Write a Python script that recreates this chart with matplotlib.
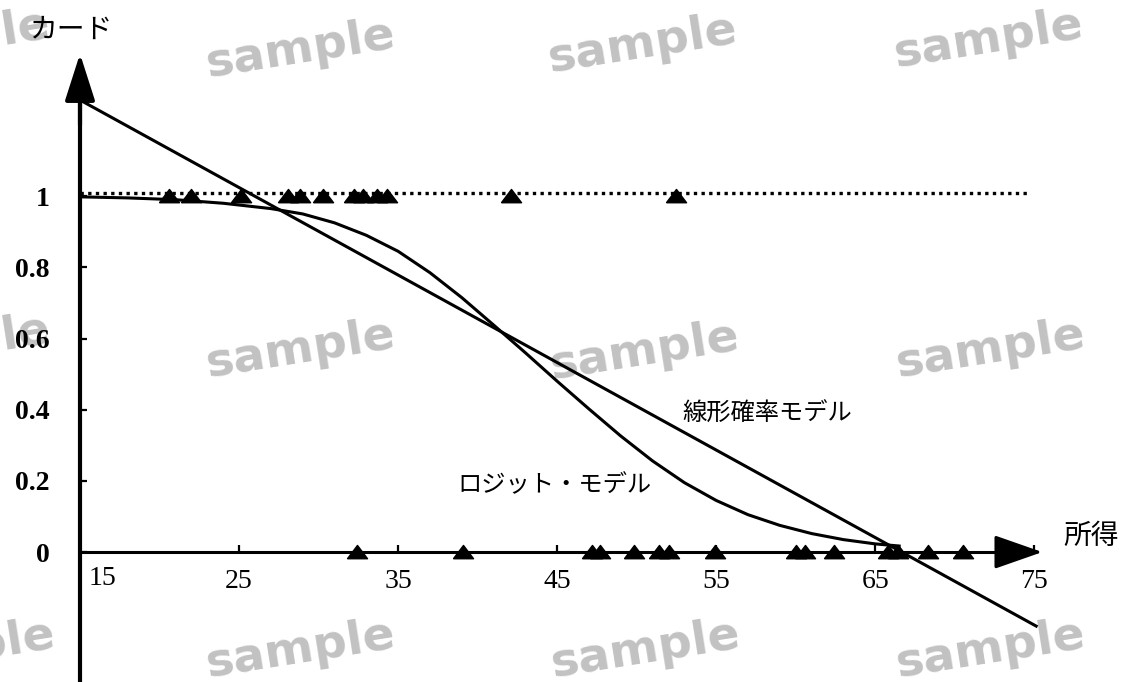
import matplotlib.pyplot as plt

# --------- data ------------------------------
# observations (card holders = 1, non-holders = 0) by income
card_one_income = [20.6, 22.0, 25.1, 28.1, 28.8, 30.3, 32.2, 32.8, 33.7, 34.3, 42.1, 52.5]
card_zero_income = [32.4, 39.1, 47.2, 47.7, 49.8, 51.4, 52.0, 54.9, 60.0, 60.6,
                    62.4, 65.8, 66.4, 68.3, 70.5]

# linear probability model (end points of the fitted line)
lpm_x = [15, 75.2]
lpm_y = [1.27, -0.21]

# logit model, points
logit_x = [15, 18, 21, 24, 27, 29, 31, 33, 35, 37, 39, 41, 43, 45, 47, 49,
           51, 53, 55, 57, 59, 61, 63, 65, 66.5]
logit_y = [0.998, 0.995, 0.99, 0.98, 0.965, 0.95, 0.925, 0.89, 0.845, 0.785,
           0.715, 0.638, 0.56, 0.48, 0.402, 0.326, 0.256, 0.195, 0.145, 0.105,
           0.075, 0.052, 0.035, 0.023, 0.017]

y_ticks = [0, 0.2, 0.4, 0.6, 0.8, 1]
y_labels = ["0", "0.2", "0.4", "0.6", "0.8", "1"]
x_ticks = [25, 35, 45, 55, 65, 75]
x_labels = ["25", "35", "45", "55", "65", "75"]

# watermark centres (figure pixels)
wm_x = [-45, 300, 642, 988, -45, 300, 644, 990, -40, 300, 645, 990]
wm_y = [40, 50, 45, 40, 345, 350, 352, 350, 650, 650, 650, 650]

W, H = 1125, 682
fig = plt.figure(figsize=(W / 100, H / 100), dpi=100)
fig.patch.set_facecolor("white")

# watermarks behind everything
for px, py in zip(wm_x, wm_y):
    fig.text(px / W, 1 - py / H, "sample", fontsize=34, fontweight="bold",
             family="DejaVu Sans", color="#c2c2c2", rotation=9,
             ha="center", va="center", zorder=-5)

ax = fig.add_axes([0, 0, 1, 1])
ax.patch.set_alpha(0)
ax.set_xlim(9.97, 80.7)
ax.set_ylim(-0.365, 1.551)

# axes through (15, 0)
for s in ["top", "right"]:
    ax.spines[s].set_visible(False)
ax.spines["left"].set_position(("data", 15))
ax.spines["bottom"].set_position(("data", 0))
ax.spines["left"].set_bounds(-0.365, 1.32)
ax.spines["bottom"].set_bounds(15, 74.2)
ax.spines["left"].set_linewidth(3)
ax.spines["bottom"].set_linewidth(2.2)

ax.set_yticks(y_ticks)
ax.set_yticklabels(y_labels, family="Liberation Serif", fontweight="bold", fontsize=20)
ax.set_xticks(x_ticks)
ax.set_xticklabels(x_labels, family="Liberation Serif", fontsize=20)
ax.tick_params(axis="y", direction="in", length=5, width=1.6, pad=22)
ax.tick_params(axis="x", direction="in", length=5, width=1.6, pad=12)
ax.text(15.55, -0.04, "15", family="Liberation Serif", fontsize=20, ha="left", va="top")

# arrow heads
ax.annotate("", xy=(15, 1.40), xytext=(15, 1.20),
            arrowprops=dict(arrowstyle="-|>,head_length=1.0,head_width=0.32",
                            mutation_scale=29, color="k", lw=3,
                            shrinkA=0, shrinkB=0))
ax.annotate("", xy=(75.5, 0), xytext=(73.5, 0),
            arrowprops=dict(arrowstyle="-|>,head_length=1.0,head_width=0.35",
                            mutation_scale=30, color="k", lw=2.2,
                            shrinkA=0, shrinkB=0))

# dotted line at 1
ax.plot([15, 74.7], [1.01, 1.01], color="k", lw=2.4, linestyle=(0, (1, 1.3)),
        dash_capstyle="butt")

# models
ax.plot(lpm_x, lpm_y, color="k", lw=2.2, solid_capstyle="butt")
ax.plot(logit_x, logit_y, color="k", lw=2.2, solid_joinstyle="round")

tri = [(-1, -0.62), (1, -0.62), (0, 0.7), (-1, -0.62)]
ax.plot(card_one_income, [1] * len(card_one_income), linestyle="none",
        marker=tri, markersize=14.5, color="k", zorder=5)
ax.plot(card_zero_income, [0] * len(card_zero_income), linestyle="none",
        marker=tri, markersize=14.5, color="k", zorder=5)

cjk = ["Noto Sans CJK JP", "DejaVu Sans"]
ax.text(11.85, 1.466, "カード", family=cjk, fontsize=20, va="center", ha="left")
ax.text(76.8, 0.045, "所得", family=cjk, fontsize=20, va="center", ha="left")
ax.text(52.9, 0.388, "線形確率モデル", family=cjk, fontsize=17.5, va="center", ha="left")
ax.text(38.7, 0.188, "ロジット・モデル", family=cjk, fontsize=17.5, va="center", ha="left")

fig.savefig("out.png", dpi=100)
